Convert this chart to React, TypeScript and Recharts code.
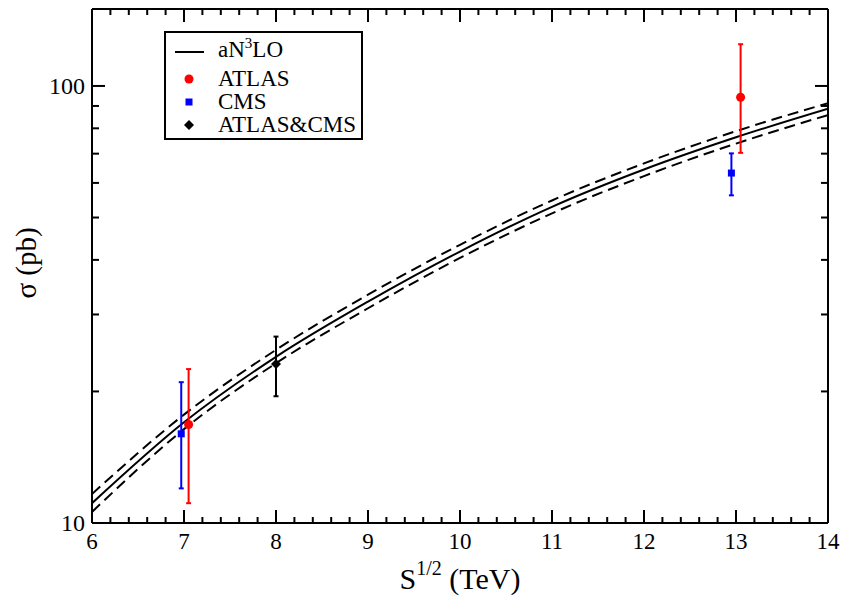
import React from 'react'
import {
  ComposedChart,
  Line,
  Scatter,
  ErrorBar,
  XAxis,
  YAxis,
  Legend,
} from 'recharts'

const FONT = '"Liberation Serif", "Times New Roman", serif'

// curve: aN3LO cross section vs sqrt(S)
const energies = [6, 7, 8, 9, 10, 11, 12, 13, 14]
const central = [11.1, 17.0, 24.0, 32.1, 41.8, 52.9, 64.4, 76.3, 88.7]
const upper = [11.65, 17.7, 24.9, 33.3, 43.3, 54.7, 66.5, 78.8, 91.3]
const lower = [10.6, 16.4, 23.2, 31.0, 40.4, 51.1, 62.2, 73.8, 85.8]

// measurements
const atlasX = [7.05, 13.05]
const atlasY = [16.8, 94.2]
const atlasLo = [11.1, 70.3]
const atlasHi = [22.5, 124.6]

const cmsX = [6.97, 12.95]
const cmsY = [16.0, 63.2]
const cmsLo = [12.0, 56.2]
const cmsHi = [21.0, 70.1]

const comboX = [8]
const comboY = [23.1]
const comboLo = [19.5]
const comboHi = [26.7]

// ticks
const xMajor = [6, 7, 8, 9, 10, 11, 12, 13, 14]
const yTicks = [10, 20, 30, 40, 50, 60, 70, 80, 90, 100]
const yLabels = [10, 100]

const xTicks: number[] = []
for (let i = 0; i <= 40; i++) xTicks.push(Math.round((6 + i * 0.2) * 10) / 10)

const isMajorX = (v: number) => xMajor.some((m) => Math.abs(m - v) < 1e-6)

const curveData = energies.map((x, i) => ({
  x,
  central: central[i],
  upper: upper[i],
  lower: lower[i],
}))

const points = (xs: number[], ys: number[], lo: number[], hi: number[]) =>
  xs.map((x, i) => ({ x, y: ys[i], err: [ys[i] - lo[i], hi[i] - ys[i]] }))

const atlasData = points(atlasX, atlasY, atlasLo, atlasHi)
const cmsData = points(cmsX, cmsY, cmsLo, cmsHi)
const comboData = points(comboX, comboY, comboLo, comboHi)

const BottomTick = (props: any) => {
  const { x, y, payload } = props
  const major = isMajorX(payload.value)
  const len = major ? 13 : 6
  return (
    <g>
      <line x1={x} x2={x} y1={y} y2={y - len} stroke="#000" strokeWidth={2} />
      {major && (
        <text x={x} y={y + 26} textAnchor="middle" fontSize={23} fontFamily={FONT} fill="#000">
          {payload.value}
        </text>
      )}
    </g>
  )
}

const TopTick = (props: any) => {
  const { x, y, payload } = props
  const len = isMajorX(payload.value) ? 13 : 6
  return <line x1={x} x2={x} y1={y} y2={y + len} stroke="#000" strokeWidth={2} />
}

const LeftTick = (props: any) => {
  const { x, y, payload } = props
  const major = yLabels.includes(payload.value)
  const len = major ? 13 : 7
  return (
    <g>
      <line x1={x} x2={x + len} y1={y} y2={y} stroke="#000" strokeWidth={2} />
      {major && (
        <text x={x - 7} y={y + 8} textAnchor="end" fontSize={24} fontFamily={FONT} fill="#000">
          {payload.value}
        </text>
      )}
    </g>
  )
}

const RightTick = (props: any) => {
  const { x, y, payload } = props
  const len = yLabels.includes(payload.value) ? 13 : 7
  return <line x1={x} x2={x - len} y1={y} y2={y} stroke="#000" strokeWidth={2} />
}

const XTitle = (props: any) => {
  const vb = props.viewBox
  const cx = vb.x + vb.width / 2
  return (
    <text x={cx} y={vb.y + 66} textAnchor="middle" fontSize={30} fontFamily={FONT} fill="#000">
      S
      <tspan dy={-14} fontSize={20}>1/2</tspan>
      <tspan dy={14}> (TeV)</tspan>
    </text>
  )
}

const YTitle = () => {
  const cy = 263
  const x = 36
  return (
    <text
      x={x}
      y={cy}
      textAnchor="middle"
      fontSize={29}
      fontFamily={FONT}
      fill="#000"
      transform={`rotate(-90 ${x} ${cy})`}
    >
      σ (pb)
    </text>
  )
}

const Circle = (p: any) => <circle cx={p.cx} cy={p.cy} r={4.5} fill="#ff0000" />
const Square = (p: any) => <rect x={p.cx - 3.5} y={p.cy - 3.5} width={7} height={7} fill="#0000ff" />
const Diamond = (p: any) => (
  <polygon
    points={`${p.cx},${p.cy - 5} ${p.cx + 5},${p.cy} ${p.cx},${p.cy + 5} ${p.cx - 5},${p.cy}`}
    fill="#000"
  />
)

const legendItems = [
  { name: 'ATLAS', marker: <circle cx={8} cy={8} r={4.5} fill="#ff0000" /> },
  { name: 'CMS', marker: <rect x={4.5} y={4.5} width={7} height={7} fill="#0000ff" /> },
  { name: 'ATLAS&CMS', marker: <polygon points="8,3 13,8 8,13 3,8" fill="#000" /> },
]

const ChartLegend = () => (
  <div
    style={{
      position: 'relative',
      width: 199,
      height: 109,
      boxSizing: 'border-box',
      border: '2px solid #000',
      background: '#fff',
      fontFamily: FONT,
      fontSize: 23,
      color: '#000',
    }}
  >
    <div style={{ position: 'absolute', left: 9, top: 18, width: 29, height: 2, background: '#000' }} />
    <div style={{ position: 'absolute', left: 52, top: 4, lineHeight: '26px', whiteSpace: 'nowrap' }}>
      aN<span style={{ fontSize: 15, position: 'relative', top: -9 }}>3</span>LO
    </div>
    {legendItems.map((it, i) => (
      <div key={it.name}>
        <svg
          width={16}
          height={16}
          style={{ position: 'absolute', left: 15, top: 38 + i * 23 }}
        >
          {it.marker}
        </svg>
        <div
          style={{
            position: 'absolute',
            left: 52,
            top: 33 + i * 23,
            lineHeight: '26px',
            whiteSpace: 'nowrap',
          }}
        >
          {it.name}
        </div>
      </div>
    ))}
  </div>
)

export default function App() {
  return (
    <div style={{ position: 'absolute', left: 0, top: 0, width: 843, height: 600, background: '#fff' }}>
      <ComposedChart
        width={843}
        height={600}
        margin={{ top: 8, right: 14, bottom: 76, left: 91 }}
        style={{ fontFamily: FONT }}
      >
        <XAxis
          xAxisId="bottom"
          dataKey="x"
          type="number"
          domain={[6, 14]}
          ticks={xTicks}
          interval={0}
          allowDataOverflow
          height={1}
          tickSize={0}
          tickMargin={0}
          tickLine={false}
          tick={<BottomTick />}
          axisLine={{ stroke: '#000', strokeWidth: 2 }}
          label={<XTitle />}
        />
        <XAxis
          xAxisId="top"
          orientation="top"
          dataKey="x"
          type="number"
          domain={[6, 14]}
          ticks={xTicks}
          interval={0}
          allowDataOverflow
          height={1}
          tickSize={0}
          tickMargin={0}
          tickLine={false}
          tick={<TopTick />}
          axisLine={{ stroke: '#000', strokeWidth: 2 }}
        />
        <YAxis
          yAxisId="left"
          dataKey="y"
          type="number"
          scale="log"
          domain={[10, 150]}
          ticks={yTicks}
          interval={0}
          allowDataOverflow
          width={1}
          tickSize={0}
          tickMargin={0}
          tickLine={false}
          tick={<LeftTick />}
          axisLine={{ stroke: '#000', strokeWidth: 2 }}
          label={<YTitle />}
        />
        <YAxis
          yAxisId="right"
          orientation="right"
          type="number"
          scale="log"
          domain={[10, 150]}
          ticks={yTicks}
          interval={0}
          allowDataOverflow
          width={1}
          tickSize={0}
          tickMargin={0}
          tickLine={false}
          tick={<RightTick />}
          axisLine={{ stroke: '#000', strokeWidth: 2 }}
        />
        <Legend
          layout="horizontal"
          verticalAlign="middle"
          align="center"
          content={<ChartLegend />}
          wrapperStyle={{ left: 164, top: 31, width: 199, height: 109 }}
        />
        <Line
          xAxisId="bottom"
          yAxisId="left"
          data={curveData}
          dataKey="upper"
          type="monotone"
          stroke="#000"
          strokeWidth={2}
          strokeDasharray="11 6"
          dot={false}
          activeDot={false}
          isAnimationActive={false}
        />
        <Line
          xAxisId="bottom"
          yAxisId="left"
          data={curveData}
          dataKey="central"
          type="monotone"
          stroke="#000"
          strokeWidth={2}
          dot={false}
          activeDot={false}
          isAnimationActive={false}
        />
        <Line
          xAxisId="bottom"
          yAxisId="left"
          data={curveData}
          dataKey="lower"
          type="monotone"
          stroke="#000"
          strokeWidth={2}
          strokeDasharray="11 6"
          dot={false}
          activeDot={false}
          isAnimationActive={false}
        />
        <Scatter
          xAxisId="bottom"
          yAxisId="left"
          data={cmsData}
          dataKey="y"
          shape={<Square />}
          isAnimationActive={false}
        >
          <ErrorBar dataKey="err" direction="y" width={2.5} stroke="#0000ff" strokeWidth={2} />
        </Scatter>
        <Scatter
          xAxisId="bottom"
          yAxisId="left"
          data={atlasData}
          dataKey="y"
          shape={<Circle />}
          isAnimationActive={false}
        >
          <ErrorBar dataKey="err" direction="y" width={2.5} stroke="#ff0000" strokeWidth={2} />
        </Scatter>
        <Scatter
          xAxisId="bottom"
          yAxisId="left"
          data={comboData}
          dataKey="y"
          shape={<Diamond />}
          isAnimationActive={false}
        >
          <ErrorBar dataKey="err" direction="y" width={2.5} stroke="#000" strokeWidth={2} />
        </Scatter>
      </ComposedChart>
    </div>
  )
}
